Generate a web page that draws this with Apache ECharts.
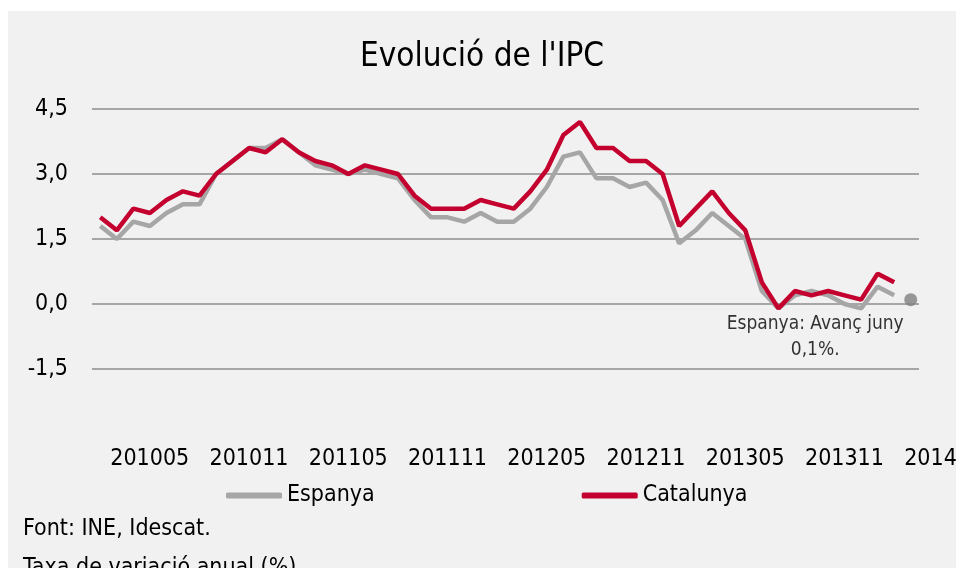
<!DOCTYPE html>
<html>
<head>
<meta charset="utf-8">
<script src="https://cdn.jsdelivr.net/npm/echarts@6/dist/echarts.min.js"></script>
<style>
  html, body { margin: 0; padding: 0; background: #ffffff; overflow: hidden; }
  /* panell gris desplaçat com a la imatge original */
  #chart { position: absolute; left: 8px; top: 11px; width: 948px; height: 557px; background: #f1f1f1; }
</style>
</head>
<body>
<div id="chart"></div>
<script>
// Mesos (AAAAMM)
const categories = [
  '201005','201006','201007','201008','201009','201010','201011','201012',
  '201101','201102','201103','201104','201105','201106','201107','201108','201109','201110','201111','201112',
  '201201','201202','201203','201204','201205','201206','201207','201208','201209','201210','201211','201212',
  '201301','201302','201303','201304','201305','201306','201307','201308','201309','201310','201311','201312',
  '201401','201402','201403','201404','201405','201406'
];

// Taxa de variació anual (%)
const espanya = [
  1.8, 1.5, 1.9, 1.8, 2.1, 2.3, 2.3, 3.0,
  3.3, 3.6, 3.6, 3.8, 3.5, 3.2, 3.1, 3.0, 3.1, 3.0, 2.9, 2.4,
  2.0, 2.0, 1.9, 2.1, 1.9, 1.9, 2.2, 2.7, 3.4, 3.5, 2.9, 2.9,
  2.7, 2.8, 2.4, 1.4, 1.7, 2.1, 1.8, 1.5, 0.3, -0.1, 0.2, 0.3,
  0.2, 0.0, -0.1, 0.4, 0.2, null
];
const catalunya = [
  2.0, 1.7, 2.2, 2.1, 2.4, 2.6, 2.5, 3.0,
  3.3, 3.6, 3.5, 3.8, 3.5, 3.3, 3.2, 3.0, 3.2, 3.1, 3.0, 2.5,
  2.2, 2.2, 2.2, 2.4, 2.3, 2.2, 2.6, 3.1, 3.9, 4.2, 3.6, 3.6,
  3.3, 3.3, 3.0, 1.8, 2.2, 2.6, 2.1, 1.7, 0.5, -0.1, 0.3, 0.2,
  0.3, 0.2, 0.1, 0.7, 0.5, null
];
// avanç de juny (només Espanya)
const espanyaAvanc = 0.1;

const FONT = "'DejaVu Sans Condensed', 'DejaVu Sans', sans-serif";
const C_ESP = '#a6a6a6';
const C_CAT = '#c4002f';

const chart = echarts.init(document.getElementById('chart'));

chart.setOption({
  animation: false,
  textStyle: { fontFamily: FONT, color: '#000' },
  title: [
    { text: "Evolució de l'IPC", left: 'center', top: 25,
      textStyle: { fontFamily: FONT, fontSize: 33, fontWeight: 'normal', color: '#000' } },
    { text: 'Font: INE, Idescat.\nTaxa de variació anual (%).', left: 10, top: 494,
      textStyle: { fontFamily: FONT, fontSize: 23, fontWeight: 'normal', color: '#000', lineHeight: 39 } },
  ],
  legend: {
    left: 218, top: 473, padding: 0, itemWidth: 56, itemHeight: 6, itemGap: 207, icon: 'roundRect',
    textStyle: { fontFamily: FONT, fontSize: 23, color: '#000' },
    data: ['Espanya', 'Catalunya'],
  },
  // outerBoundsMode none: l'etiqueta final surt del marc com a l'original
  grid: { left: 84, right: 37, top: 98, bottom: 199, outerBoundsMode: 'none', containLabel: false },
  xAxis: {
    type: 'category', data: categories, boundaryGap: true,
    axisLine: { show: false }, axisTick: { show: false },
    // les etiquetes de l'original queden desplaçades 3 mesos a la dreta
    axisLabel: { interval: 5, margin: 79, fontSize: 23, color: '#000', fontFamily: FONT,
      align: 'center', padding: [0, 0, 0, 99], hideOverlap: false },
  },
  yAxis: {
    type: 'value', min: -1.5, max: 4.5, interval: 1.5,
    axisLine: { show: false }, axisTick: { show: false },
    axisLabel: { margin: 24, fontSize: 23, color: '#000', fontFamily: FONT,
      formatter: v => v.toFixed(1).replace('.', ',') },
    splitLine: { lineStyle: { color: '#8c8c8c', width: 1.5 } },
  },
  series: [
    { name: 'Espanya', type: 'line', data: espanya, showSymbol: false, symbol: 'none',
      lineStyle: { color: C_ESP, width: 4.5 }, itemStyle: { color: C_ESP } },
    { name: 'Catalunya', type: 'line', data: catalunya, showSymbol: false, symbol: 'none',
      lineStyle: { color: C_CAT, width: 4.5 }, itemStyle: { color: C_CAT }, z: 3 },
    { name: 'Avanç', type: 'scatter', symbolSize: 13,
      data: categories.map((c, i) => i === categories.length - 1 ? espanyaAvanc : null),
      itemStyle: { color: '#808080' },
      label: { show: true, position: [-89, 18], align: 'center', verticalAlign: 'top',
        fontFamily: FONT, fontSize: 19, lineHeight: 26, color: '#000',
        formatter: 'Espanya: Avanç juny\n0,1%.' } },
  ],
});

window.addEventListener('resize', () => chart.resize());
</script>
</body>
</html>
